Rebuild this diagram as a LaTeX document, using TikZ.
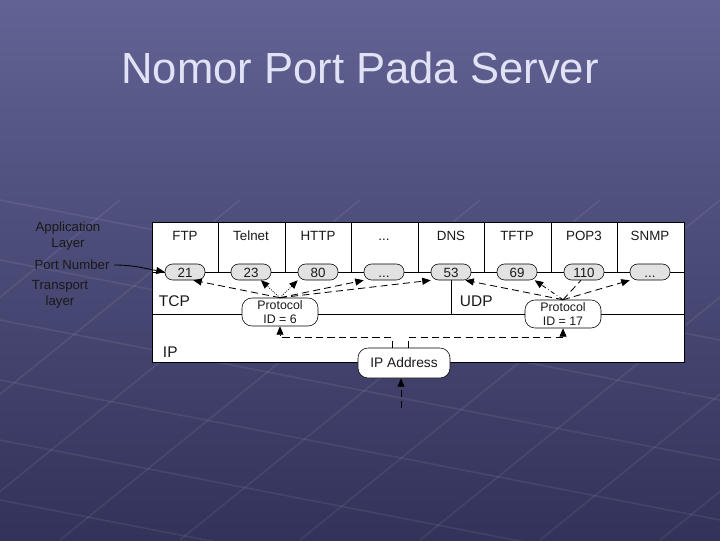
\documentclass[tikz,border=0pt]{standalone}
\usepackage{fontspec}
\setmainfont{Liberation Sans}
\usetikzlibrary{arrows.meta}
\definecolor{slidetop}{RGB}{98,98,148}
\definecolor{slidebot}{RGB}{50,50,90}
\definecolor{titletext}{RGB}{226,226,246}
\definecolor{pillgray}{RGB}{226,226,226}
\definecolor{ink}{RGB}{25,25,25}
\tikzset{>/.tip={Triangle[length=6pt,width=5pt]},
  portpill/.style={draw, fill=pillgray, rounded corners=0.19cm, minimum width=1cm, minimum height=0.4cm, inner sep=0pt, text height=1.6ex, text depth=0.2ex, font=\fontsize{9.5}{10}\selectfont},
  protobox/.style={draw, fill=white, rounded corners=0.25cm, minimum width=1.9cm, minimum height=0.7cm, inner sep=0pt, align=center, font=\fontsize{8.8}{10}\selectfont},
  collabel/.style={text height=1.6ex, text depth=0.2ex, font=\fontsize{9.5}{10}\selectfont},
  layerlabel/.style={font=\fontsize{11}{12}\selectfont, anchor=west},
  sidelabel/.style={align=center, text=ink, font=\fontsize{9.4}{11.5}\selectfont},
  link/.style={dash pattern=on 5pt off 3pt, line width=0.6pt},
  gridline/.style={white, opacity=0.07, line width=1.2pt}}

\begin{document}
\begin{tikzpicture}[x=0.025cm, y=-0.025cm, text=ink]
\useasboundingbox (0,0) rectangle (720,540);
\shade[top color=slidetop, bottom color=slidebot] (0,0) rectangle (720,540);
% faint floor grid
\foreach \g in {-300,-180,...,700}
  \draw[gridline] (\g,540) -- (\g+420,200);
\foreach \g in {200,260,...,560}
  \draw[gridline] (0,\g) -- (720,\g+140);

\node[text=titletext, font=\fontsize{31}{36}\selectfont] (title) at (360,68) {Nomor Port Pada Server};

% layers
\draw[fill=white, line width=0.5pt] (152,222) rectangle (684,362);
\draw[line width=0.5pt] (152,272) -- (684,272);
\draw[line width=0.5pt] (152,314) -- (684,314);
\draw[line width=0.5pt] (451,272) -- (451,314);
\draw[line width=0.5pt] (218,222) -- (218,272);
\draw[line width=0.5pt] (285,222) -- (285,272);
\draw[line width=0.5pt] (351,222) -- (351,272);
\draw[line width=0.5pt] (418,222) -- (418,272);
\draw[line width=0.5pt] (484,222) -- (484,272);
\draw[line width=0.5pt] (551,222) -- (551,272);
\draw[line width=0.5pt] (617,222) -- (617,272);

\node[collabel] (ftp)    at (185,235) {FTP};
\node[collabel] (telnet) at (251,235) {Telnet};
\node[collabel] (http)   at (318,235) {HTTP};
\node[collabel] (appdots) at (384,235) {...};
\node[collabel] (dns)    at (451,235) {DNS};
\node[collabel] (tftp)   at (517,235) {TFTP};
\node[collabel] (pop)    at (584,235) {POP3};
\node[collabel] (snmp)   at (650,235) {SNMP};

\node[layerlabel] (tcp) at (154,301) {TCP};
\node[layerlabel] (udp) at (455,301) {UDP};
\node[layerlabel] (ip)  at (158,352) {IP};

\node[portpill] (p21)  at (185,272) {21};
\node[portpill] (p23)  at (251,272) {23};
\node[portpill] (p80)  at (318,272) {80};
\node[portpill] (pdots) at (384,272) {...};
\node[portpill] (p53)  at (451,272) {53};
\node[portpill] (p69)  at (517,272) {69};
\node[portpill] (p110) at (584,272) {110};
\node[portpill] (psnmp) at (650,272) {...};

\node[protobox] (proto6)  at (280,312) {Protocol\\ID = 6};
\node[protobox] (proto17) at (563,314) {Protocol\\ID = 17};
\node[protobox, minimum width=2.3cm, minimum height=0.75cm, font=\fontsize{9.8}{11}\selectfont] (ipaddr) at (404,363) {IP Address};

% side labels
\node[sidelabel] (applbl)  at (68,236) {Application\\Layer};
\node[sidelabel] (portlbl) at (72,265) {Port Number};
\node[sidelabel] (translbl) at (60,294) {Transport\\layer};
\draw[->, line width=0.6pt] (portlbl.east) to[out=0, in=170] (p21.west);

% TCP
\draw[->, link] (proto6.north) -- (p21.-45);
\draw[->, densely dotted, line width=0.6pt] (proto6.north) -- (p23.-40);
\draw[->, densely dotted, line width=0.6pt] (proto6.north) -- (p80.south west);
\draw[->, link] (proto6.north) -- (pdots.south west);
\draw[->, link] (proto6.north) -- (p53.south west);
% UDP
\draw[->, link] (proto17.north) -- (p53.-30);
\draw[->, dash dot, line width=0.6pt] (proto17.north) -- (p69.-25);
\draw[link] (proto17.north) -- (p110.-110);
\draw[->, link] (proto17.north) -- (psnmp.south west);
% IP
\draw[->, link] ([xshift=-0.3cm]ipaddr.north) -- ++(0,-10) -| (proto6.south);
\draw[->, link] ([xshift=0.1cm]ipaddr.north) -- ++(0,-10) -| (proto17.south);
\coordinate (ipin) at (401,408);
\draw[->, link] (ipin) -- (ipin |- ipaddr.south);
\end{tikzpicture}
\end{document}
